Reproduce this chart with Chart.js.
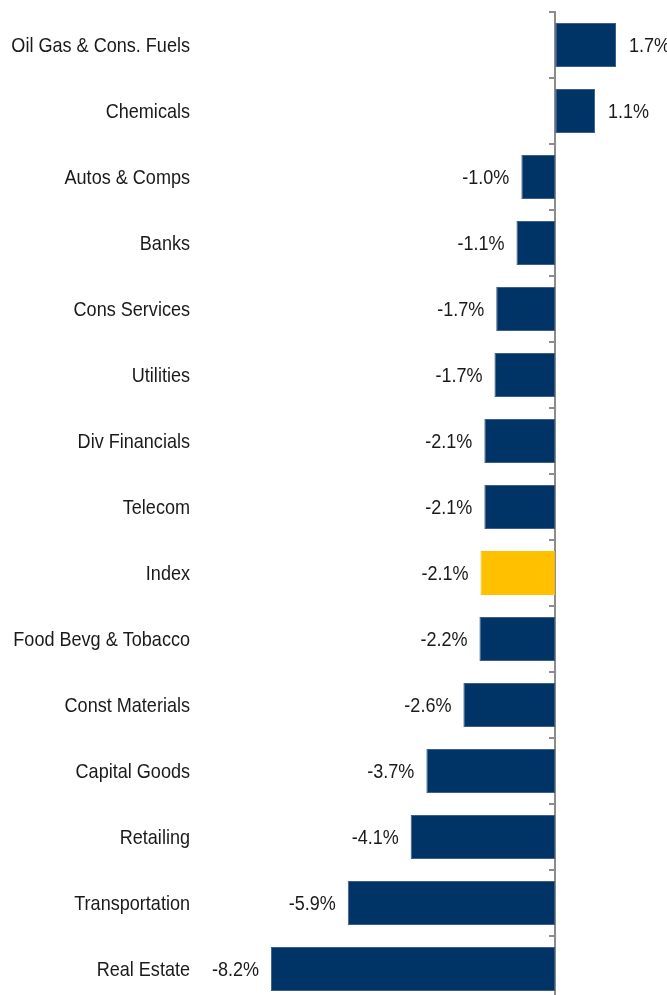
<!DOCTYPE html>
<html>
<head>
<meta charset="utf-8">
<script src="https://cdn.jsdelivr.net/npm/chart.js@4"></script>
<style>
    html, body { margin: 0; padding: 0; background: #fff; overflow: hidden; }
    #wrap { position: relative; width: 667px; height: 1002px; }
</style>
</head>
<body>
<div id="wrap"><canvas id="sectorChart"></canvas></div>
<script>
// Sector returns, top to bottom
const sectors = [
    'Oil Gas & Cons. Fuels', 'Chemicals', 'Autos & Comps', 'Banks', 'Cons Services',
    'Utilities', 'Div Financials', 'Telecom', 'Index', 'Food Bevg & Tobacco',
    'Const Materials', 'Capital Goods', 'Retailing', 'Transportation', 'Real Estate'
];
const returns = [1.74, 1.14, -0.97, -1.11, -1.69, -1.74, -2.03, -2.03, -2.14, -2.17, -2.63, -3.69, -4.14, -5.94, -8.14];
const shownLabels = ['1.7%', '1.1%', '-1.0%', '-1.1%', '-1.7%', '-1.7%', '-2.1%', '-2.1%', '-2.1%', '-2.2%', '-2.6%', '-3.7%', '-4.1%', '-5.9%', '-8.2%'];

const NAVY = '#003366';
const GOLD = '#FFC000';
const FONT = "'Liberation Sans', Arial, sans-serif";
const TEXT = '#1a1a1a';

const barColors = sectors.map(s => s === 'Index' ? GOLD : NAVY);

// squeeze text horizontally to get a narrow face
function narrowText(ctx, str, x, y, align, squeeze) {
    ctx.save();
    ctx.translate(x, y);
    ctx.scale(squeeze, 1);
    ctx.textAlign = align;
    ctx.fillText(str, 0, 0);
    ctx.restore();
}

/**
 * Category names and value labels
 */
const textLayer = {
    id: 'textLayer',
    afterDatasetsDraw(chart) {
        const ctx = chart.ctx;
        const yScale = chart.scales.y;
        const meta = chart.getDatasetMeta(0);
        ctx.save();
        ctx.fillStyle = TEXT;
        ctx.textBaseline = 'middle';

        ctx.font = '21px ' + FONT;
        sectors.forEach((name, i) => {
            narrowText(ctx, name, 190, yScale.getPixelForTick(i) + 1, 'right', 0.86);
        });

        ctx.font = '20px ' + FONT;
        meta.data.forEach((bar, i) => {
            if (returns[i] >= 0) {
                narrowText(ctx, shownLabels[i], bar.x + 13, bar.y + 1, 'left', 0.9);
            } else {
                narrowText(ctx, shownLabels[i], bar.x - 12, bar.y + 1, 'right', 0.9);
            }
        });
        ctx.restore();
    }
};

new Chart(document.getElementById('sectorChart'), {
    type: 'bar',
    data: {
        labels: sectors,
        datasets: [{
            data: returns,
            backgroundColor: barColors,
            borderColor: sectors.map(s => s === 'Index' ? GOLD : '#3d5f8a'),
            borderWidth: 1,
            borderSkipped: false,
            categoryPercentage: 1,
            barPercentage: 0.667
        }]
    },
    options: {
        indexAxis: 'y',
        responsive: true,
        maintainAspectRatio: false,
        animation: false,
        layout: { padding: { top: 12, right: 0, bottom: 0, left: 0 } },
        plugins: {
            legend: { display: false },
            tooltip: { enabled: false }
        },
        scales: {
            x: {
                display: false,
                min: -10,
                max: 3.2
            },
            y: {
                position: 'left',
                afterFit(scale) { scale.width = 206; },
                border: { display: false },
                grid: { display: false },
                ticks: { display: false }
            },
            yZero: {
                type: 'category',
                labels: sectors,
                position: { x: 0 },
                offset: true,
                border: { display: true, color: '#8c8c8c', width: 2 },
                grid: {
                    offset: true,
                    drawOnChartArea: false,
                    drawTicks: true,
                    tickLength: 5,
                    color: '#8c8c8c',
                    lineWidth: 2
                },
                ticks: { display: false }
            }
        }
    },
    plugins: [textLayer]
});
</script>
</body>
</html>
